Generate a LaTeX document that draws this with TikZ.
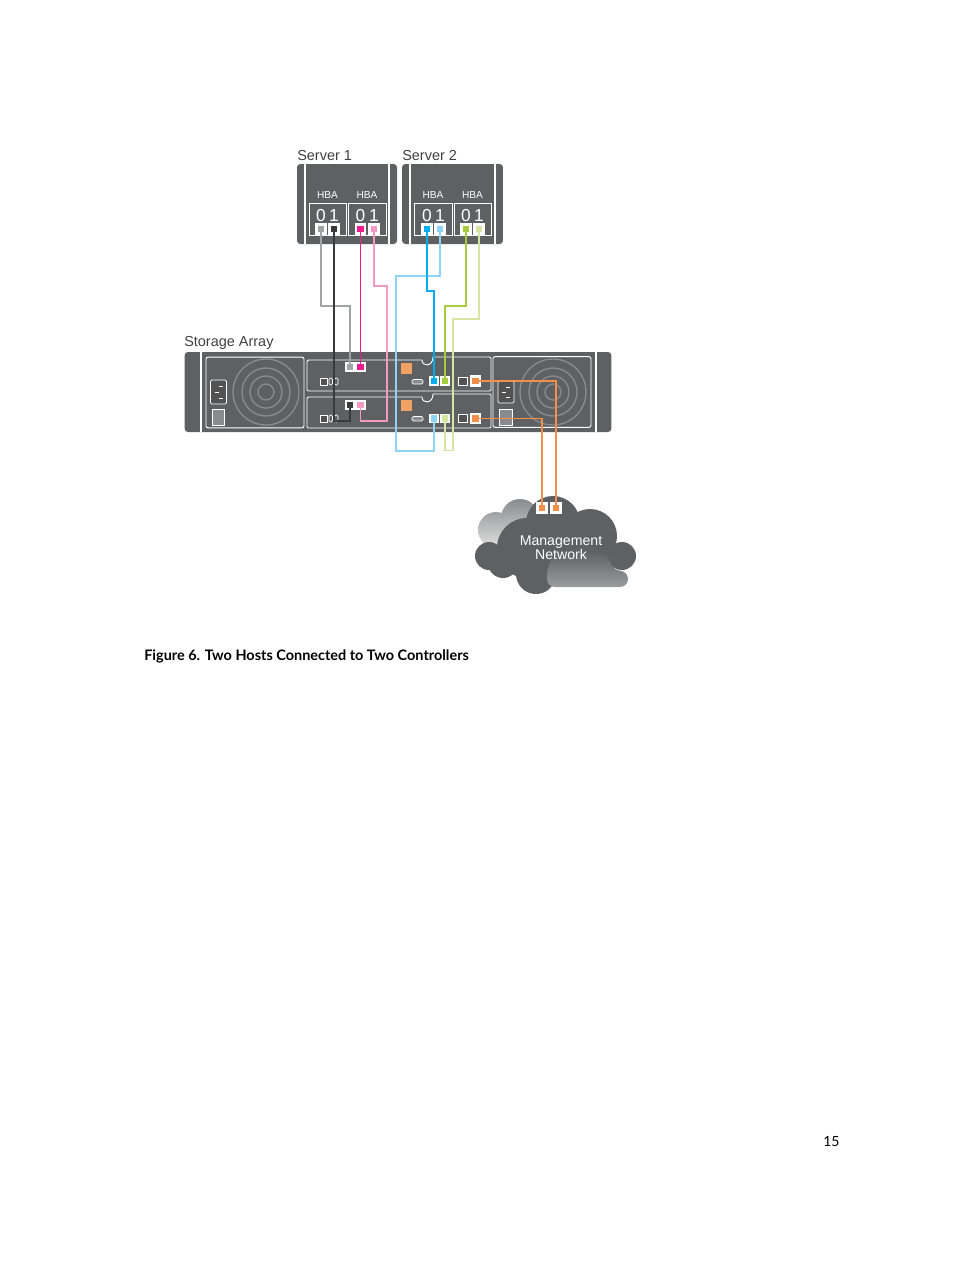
\documentclass[tikz,border=0pt]{standalone}
\usepackage{fontspec}
\setmainfont{Liberation Sans}
\newfontfamily\captionfont{Lato}
\usepackage{xcolor}
\usetikzlibrary{positioning,calc,arrows.meta}
\definecolor{boxgray}{HTML}{5F6062}
\definecolor{ringgray}{HTML}{8A8B8D}
\definecolor{wgray}{HTML}{A3A4A6}
\definecolor{wblack}{HTML}{3A3A3C}
\definecolor{wmagenta}{HTML}{EC1C8E}
\definecolor{wpink}{HTML}{F29AC2}
\definecolor{wblue}{HTML}{00AEEF}
\definecolor{wsky}{HTML}{8ED4F5}
\definecolor{wgreen}{HTML}{A4CC3C}
\definecolor{wlime}{HTML}{D6E5A2}
\definecolor{worange}{HTML}{F0904A}

\begin{document}
\begin{tikzpicture}[
	x=0.75pt, y=-0.75pt,
	chassis/.style={fill=boxgray, draw=none, rounded corners=2.5pt, inner sep=0pt},
	outline/.style={draw=white, line width=0.7pt, inner sep=0pt},
	hostport/.style={fill=white, draw=none, inner sep=0pt, minimum size=8.6pt},
	arrayport/.style={fill=white, draw=none, inner sep=0pt, minimum width=8.2pt, minimum height=7.2pt},
	portdot/.style={draw=none, inner sep=0pt, minimum size=5pt},
	wire/.style={line width=1.4pt},
	ring/.style={draw=ringgray, line width=1pt},
	label_text/.style={font=\fontsize{10.85}{12}\selectfont, text=black!75, inner sep=0pt},
	hba_text/.style={font=\fontsize{7.6}{9}\selectfont, text=white, inner sep=0pt},
	digit_text/.style={font=\fontsize{13}{14}\selectfont, text=white, inner sep=0pt},
	sockets/.style={fill=black!68, draw=white, line width=0.6pt}
	]
	\useasboundingbox (0,0) rectangle (954,1268);

	% Servers
	\node[chassis, minimum width=75pt, minimum height=60pt] (srv1) at (347,204) {};
	\node[chassis, minimum width=75.7pt, minimum height=60pt] (srv2) at (452.5,204) {};
	\draw[white, line width=0.8pt] (305,164) -- (305,244) (389,164) -- (389,244);
	\draw[white, line width=0.8pt] (410,164) -- (410,244) (495,164) -- (495,244);
	\node[label_text, anchor=base west] (srv1txt) at (297,160) {Server 1};
	\node[label_text, anchor=base west] (srv2txt) at (402,160) {Server 2};

	% HBA boxes
	\foreach \nm/\cx/\boxw in {hbaA/327.5/27.7, hbaB/367/28.5, hbaC/433/28.5, hbaD/472.5/27.7} {
		\node[outline, minimum width=\boxw pt, minimum height=24pt] (\nm) at (\cx,219) {};
		\node[hba_text, above=2.6pt of \nm] (\nm txt) {HBA};
	}

	% Host ports
	\foreach \nm/\cx/\digit in {h1a/321/0, h1b/334/1, h1c/360.5/0, h1d/374/1, h2a/427/0, h2b/440/1, h2c/466/0, h2d/479/1} {
		\node[hostport] (\nm) at (\cx,229) {};
		\node[digit_text, above=0.8pt of \nm] (\nm dg) {\digit};
	}

	% Storage array
	\node[chassis, minimum width=320pt, minimum height=60pt] (array) at (398,392) {};
	\draw[white, line width=0.8pt] (201,352) -- (201,432) (596,352) -- (596,432);
	\node[label_text, anchor=base west] (arraytxt) at (184,346) {Storage Array};
	\node[outline, rounded corners=1.5pt, minimum width=73.5pt, minimum height=53pt] (psuL) at (255,392.5) {};
	\node[outline, rounded corners=1.5pt, minimum width=73.5pt, minimum height=53pt] (psuR) at (542,392) {};

	% Fans
	\begin{scope}
		\clip (206,357) rectangle (304,428);
		\foreach \rad in {8,16,24,33} \draw[ring] (266,392) circle (\rad);
	\end{scope}
	\begin{scope}
		\clip (493,357) rectangle (591,428);
		\foreach \rad in {8,16,24,33} \draw[ring] (553,392) circle (\rad);
	\end{scope}

	% Sockets and switches
	\foreach \cx/\ya/\yb in {218.5/380/404, 506/381/403} {
		\draw[sockets, rounded corners=1pt] (\cx-8,\ya) rectangle (\cx+8,\yb);
		\draw[white, line width=0.6pt] (\cx-4,{(\ya+\yb)/2}) -- (\cx,{(\ya+\yb)/2})
			(\cx,\ya+6) -- (\cx+4,\ya+6) (\cx,\yb-6) -- (\cx+4,\yb-6);
	}
	\draw[white, fill=ringgray, line width=0.6pt] (212,409) rectangle (224,425);
	\draw[white, fill=ringgray, line width=0.6pt] (499.5,409) rectangle (512,425);

	% Controllers
	\foreach \yy in {0,37} {
		\draw[white, line width=0.7pt, rounded corners=1pt]
			(422,360+\yy) -- (307,360+\yy) -- (307,391+\yy) -- (491,391+\yy) -- (491,357+\yy) -- (433,357+\yy);
		\draw[white, line width=0.7pt]
			(433,357+\yy) .. controls (433,367+\yy) and (422,367+\yy) .. (422,360+\yy);
		\draw[fill=black!68, draw=white, line width=0.6pt] (320,378+\yy) rectangle (327,385+\yy);
		\draw[draw=white, line width=0.6pt, rounded corners=1pt] (329,378+\yy) rectangle (332.5,385+\yy);
		\draw[draw=white, line width=0.6pt, rounded corners=1pt] (334.5,378+\yy) rectangle (338,385+\yy);
		\fill[worange!85!white] (401,363+\yy) rectangle (412,373.5+\yy);
		\draw[draw=white, fill=ringgray, line width=0.6pt, rounded corners=1pt] (412,379.5+\yy) rectangle (423,384+\yy);
		\draw[draw=white, fill=black!68, line width=0.8pt] (458.5,377.5+\yy) rectangle (467.5,385.5+\yy);
	}

	% Storage ports
	\node[arrayport] (upA) at (350,367) {};
	\node[arrayport] (upB) at (360.5,367) {};
	\node[arrayport] (loA) at (350,405) {};
	\node[arrayport] (loB) at (360.5,405) {};
	\node[arrayport] (upC) at (434,381) {};
	\node[arrayport] (upD) at (445,381) {};
	\node[arrayport] (loC) at (434,418.5) {};
	\node[arrayport] (loD) at (445,418.5) {};
	\node[hostport] (upM) at (475.5,381) {};
	\node[hostport] (loM) at (475.5,418.5) {};

	% Cloud, lighter parts behind
	\shade[top color=ringgray, bottom color=black!12]
		(496,530) circle (18) (520,518) circle (19);
	\fill[boxgray] (527,548) circle (30);
	\fill[boxgray] (553,523) circle (27);
	\fill[boxgray] (590,536) circle (27);
	\fill[boxgray] (622,556) circle (14);
	\fill[boxgray] (489,556) circle (14);
	\fill[boxgray] (503,563) circle (15);
	\fill[boxgray] (536,574) circle (20);
	\fill[boxgray] (560,555) circle (30);
	\fill[boxgray] (603,556) circle (16);
	\shade[top color=boxgray, bottom color=ringgray!85, rounded corners=6pt]
		(547,587) -- (547,568) -- (556,551) -- (605,551) -- (614,571) -- (628,571) -- (628,587) -- cycle;
	\node[hostport] (mgA) at (542,508) {};
	\node[hostport] (mgB) at (556,508) {};
	\node[font=\fontsize{10.6}{10.5}\selectfont, text=white, align=center, inner sep=0pt] (mgmt) at (561,548) {Management\\Network};

	% Cables
	\draw[wire, wgray] (h1a.center) |- (upA |- 0,306) -- (upA.center);
	\draw[wire, wblack] (h1b.center) |- (loA |- 0,421) -- (loA.center);
	\draw[wire, wmagenta] (h1c.center) -- (upB.center);
	\draw[wire, wpink] (h1d.center) |- (387,286) |- (loB |- 0,421) -- (loB.center);
	\draw[wire, wsky] (h2b.center) |- (396,276) |- (loC |- 0,451) -- (loC.center);
	\draw[wire, wblue] (h2a.center) |- (upC |- 0,291) -- (upC.center);
	\draw[wire, wgreen] (h2c.center) |- (upD |- 0,306) -- (upD.center);
	\draw[wire, wlime] (h2d.center) |- (453,319) |- (loD |- 0,450.5) -- (loD.center);
	\draw[wire, worange] (upM.center) -| (mgB.center);
	\draw[wire, worange] (loM.center) -| (mgA.center);

	% Port colours
	\foreach \prt/\col in {h1a/wgray, h1b/wblack, h1c/wmagenta, h1d/wpink, h2a/wblue, h2b/wsky, h2c/wgreen, h2d/wlime,
		upA/wgray, upB/wmagenta, loA/wblack, loB/wpink, upC/wblue, upD/wgreen, loC/wsky, loD/wlime,
		upM/worange, loM/worange, mgA/worange, mgB/worange} {
		\node[portdot, fill=\col] at (\prt) {};
	}

	% Caption and page number
	\node[font=\captionfont\bfseries\fontsize{10.84}{12}\selectfont, text=black, anchor=base west, inner sep=0pt] (caption) at (144,660) {Figure 6. Two Hosts Connected to Two Controllers};
	\node[font=\captionfont\fontsize{10.5}{12}\selectfont, text=black, anchor=base west, inner sep=0pt] (pagenum) at (823,1146) {15};
\end{tikzpicture}
\end{document}
